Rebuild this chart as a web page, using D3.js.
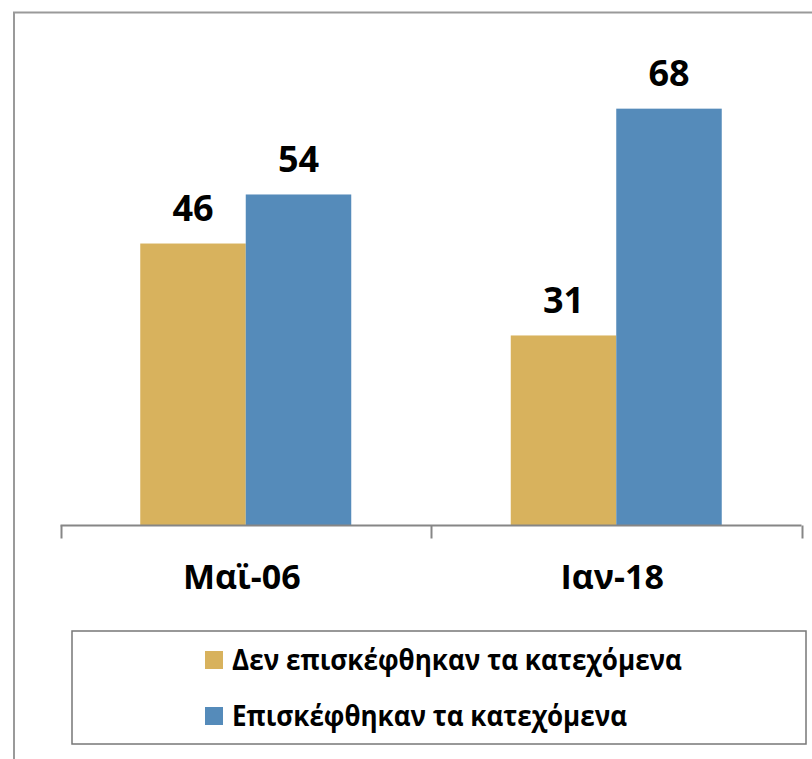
<!DOCTYPE html>
<html><head><meta charset="utf-8">
<script src="https://cdn.jsdelivr.net/npm/d3@7"></script>
<style>body{margin:0;background:#fff;}svg{display:block;font-family:"Open Sans",sans-serif;}</style>
</head><body>
<svg id="c" width="812" height="759"></svg>
<script>
const categories = ["Μαϊ-06", "Ιαν-18"];
const seriesNames = ["Δεν επισκέφθηκαν τα κατεχόμενα", "Επισκέφθηκαν τα κατεχόμενα"];
const notVisited = [46, 31];
const visited = [54, 68];
const seriesColors = ["#D8B25D", "#558BBA"];

const svg = d3.select("#c");
const series = [notVisited, visited];

// outer frame
svg.append("rect").attr("x", 14).attr("y", 12.5).attr("width", 820).attr("height", 780)
  .attr("fill", "none").attr("stroke", "#9a9a9a").attr("stroke-width", 2);

const baseY = 525.5, left = 60.5, right = 801.5;
const y = d3.scaleLinear().domain([0, 80]).range([baseY, baseY - 80 * 6.13]);
const x0 = d3.scaleBand().domain(categories).range([left, right]).paddingInner(0).paddingOuter(0);
const x1 = d3.scaleBand().domain([0, 1]).range([0, x0.bandwidth()]).paddingInner(0).paddingOuter(0.756);

const g = svg.append("g");
categories.forEach((c, i) => {
  series.forEach((s, j) => {
    const bx = x0(c) + x1(j);
    g.append("rect").attr("x", bx).attr("y", y(s[i])).attr("width", x1.bandwidth())
      .attr("height", baseY - y(s[i])).attr("fill", seriesColors[j]);
    g.append("text").attr("x", bx + x1.bandwidth() / 2).attr("y", y(s[i]) - 22.5)
      .attr("text-anchor", "middle").attr("font-size", 36).attr("font-weight", 700)
      .attr("fill", "#000").text(s[i]);
  });
});

// axis
const axis = d3.axisBottom(x0).tickSize(0).tickFormat("");
const ag = svg.append("g").attr("transform", `translate(0,${baseY})`).call(axis);
ag.select(".domain").attr("stroke", "#868686").attr("stroke-width", 2).attr("d", `M${left},0H${right}`);
ag.selectAll(".tick").remove();
const bounds = [...categories.map(c => x0(c)), right];
bounds.forEach(bx => {
  ag.append("line").attr("x1", Math.round(bx) + 0.5).attr("x2", Math.round(bx) + 0.5)
    .attr("y1", 0).attr("y2", 13).attr("stroke", "#868686").attr("stroke-width", 2);
});
categories.forEach(c => {
  svg.append("text").attr("x", x0(c) + x0.bandwidth() / 2 - 4).attr("y", 589)
    .attr("text-anchor", "middle").attr("font-size", 34).attr("font-weight", 700)
    .attr("fill", "#000").text(c);
});

// legend
svg.append("rect").attr("x", 72).attr("y", 631).attr("width", 734).attr("height", 113)
  .attr("fill", "#fff").attr("stroke", "#777").attr("stroke-width", 1.5);
const legendTextWidths = [450, 395];
seriesNames.forEach((n, j) => {
  const ly = 651 + j * 56;
  svg.append("rect").attr("x", 205).attr("y", ly).attr("width", 18).attr("height", 18).attr("fill", seriesColors[j]);
  svg.append("text").attr("x", 232).attr("y", ly + 19).attr("font-size", 28).attr("font-weight", 700)
    .attr("textLength", legendTextWidths[j]).attr("lengthAdjust", "spacingAndGlyphs")
    .attr("fill", "#000").text(n);
});
</script>
</body></html>
